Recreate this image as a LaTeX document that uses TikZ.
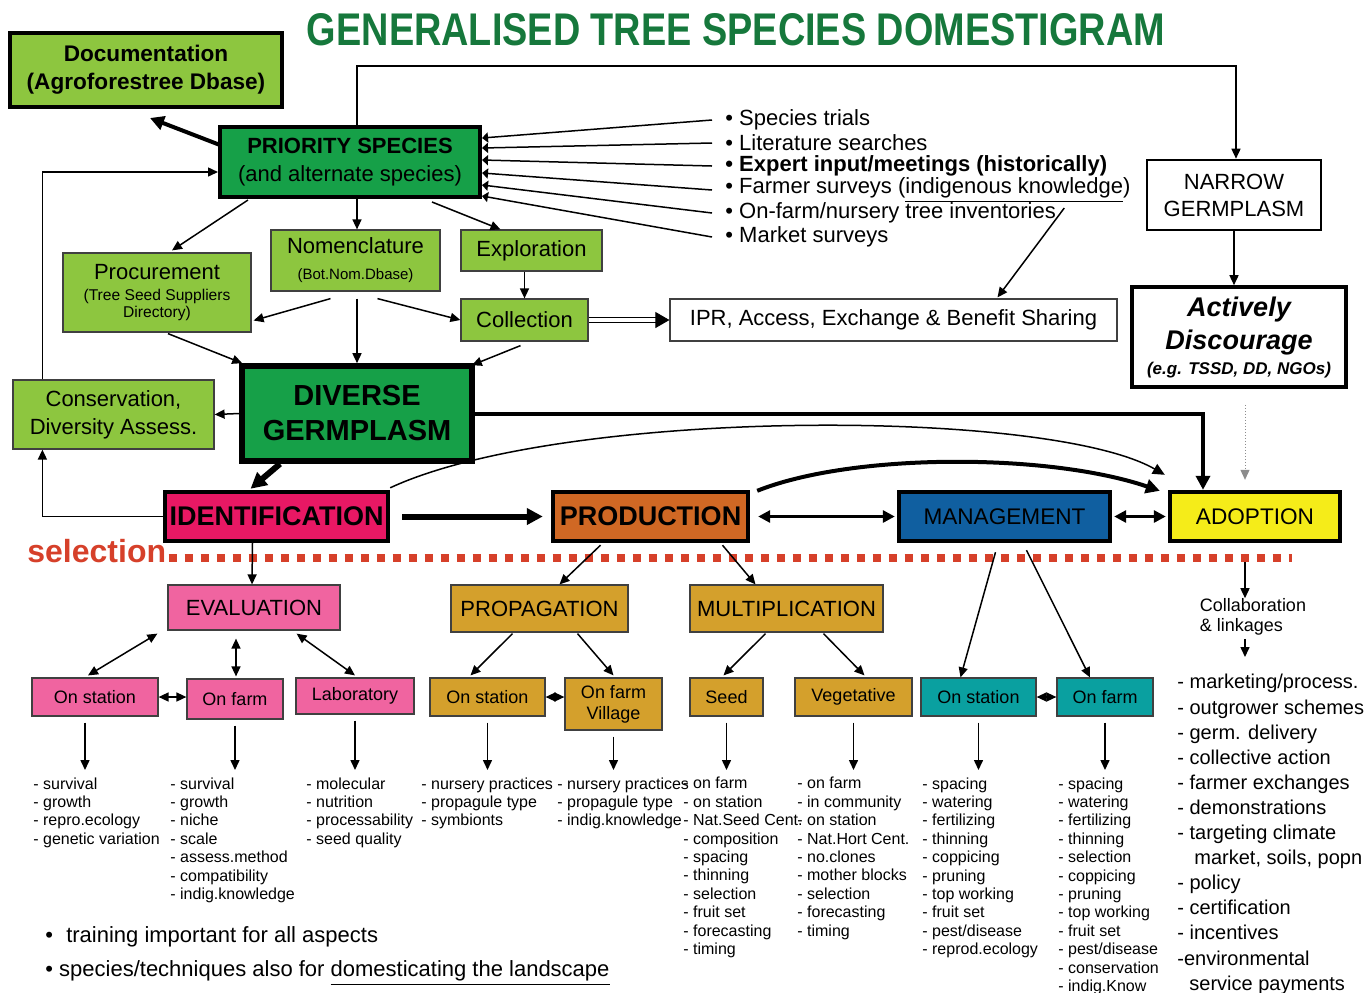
\documentclass[tikz,border=0pt]{standalone}
\usepackage{fontspec}
\setmainfont{Liberation Sans}
\usetikzlibrary{arrows.meta}
\definecolor{titlegreen}{RGB}{22,120,60}
\definecolor{lightgreen}{RGB}{141,198,63}
\definecolor{deepgreen}{RGB}{22,160,72}
\definecolor{identpink}{RGB}{232,24,100}
\definecolor{prodorange}{RGB}{208,104,36}
\definecolor{mgmtblue}{RGB}{16,95,160}
\definecolor{adoptyellow}{RGB}{245,236,25}
\definecolor{evalpink}{RGB}{240,100,160}
\definecolor{boxgold}{RGB}{212,160,44}
\definecolor{boxteal}{RGB}{10,160,160}
\definecolor{selred}{RGB}{214,64,42}
\newcommand\fsz[2]{\fontsize{#1}{#2}\selectfont}
\begin{document}
\begin{tikzpicture}[x=0.5pt,y=-0.5pt,
  wh/.style 2 args={minimum width=#1*0.5pt,minimum height=#2*0.5pt},
  box/.style={draw=black!75,line width=0.6pt,inner sep=0pt,align=center,font=\fsz{11}{13}},
  gbox/.style={box,fill=lightgreen},
  bigbox/.style={draw=black,line width=2.2pt,inner sep=0pt,align=center,font=\bfseries\fsz{13.5}{16}},
  small/.style={box,font=\fsz{9}{10.5}},
  bullet/.style={anchor=west,inner sep=0pt,font=\fsz{11}{13}},
  list/.style={anchor=north west,inner sep=0pt,align=left,font=\fsz{8}{9.2}},
  arr/.style={line width=0.75pt,-{Triangle[length=5pt,width=4.5pt]}},
  darr/.style={line width=0.75pt,{Triangle[length=5pt,width=4.5pt]}-{Triangle[length=5pt,width=4.5pt]}},
  fatarr/.style={line width=3pt,-{Triangle[length=8pt,width=8pt]}},
]
\useasboundingbox (0,0) rectangle (1372,992);
\clip (0,0) rectangle (1372,992);

\node[text=titlegreen,inner sep=0pt] (title) at (736,30) {\resizebox{429pt}{16pt}{\bfseries GENERALISED TREE SPECIES DOMESTIGRAM}};

\node[gbox,wh={272}{74},draw=black,line width=2pt,font=\bfseries\fsz{11.3}{14}] (doc) at (146,70) {Documentation\\(Agroforestree Dbase)};
\node[box,wh={260}{70},fill=deepgreen,draw=black,line width=2pt,font=\fsz{11}{14}] (prio) at (350,162) {\textbf{PRIORITY SPECIES}\\(and alternate species)};
\node[box,wh={174}{70},draw=black,line width=1.3pt,font=\fsz{11}{13.5}] (narrow) at (1234,195) {NARROW\\GERMPLASM};
\node[box,wh={214}{100},draw=black,line width=1.8pt,font=\bfseries\itshape\fsz{13.5}{16.5}] (discourage) at (1239,337) {Actively\\Discourage\\[-4pt]{\fsz{8.5}{10}(e.g. TSSD, DD, NGOs)}};

\node[bullet] (b1) at (725,120) {• Species trials};
\node[bullet] (b2) at (725,143) {• Literature searches};
\node[bullet] (b3) at (725,166) {\textbf{• Expert input/meetings (historically)}};
\node[bullet] (b4) at (725,190) {• Farmer surveys (\underline{indigenous knowledge})};
\node[bullet] (b5) at (725,213) {• On-farm/nursery tree inventories};
\node[bullet] (b6) at (725,237) {• Market surveys};

\node[gbox,wh={188}{79},font=\fsz{7.8}{8.5}] (proc) at (157,292.5) {{\fsz{11}{13}Procurement}\\[2pt](Tree Seed Suppliers\\Directory)};
\node[gbox,wh={169}{61}] (nomen) at (355.5,260.5) {Nomenclature\\{\fsz{7.5}{9}(Bot.Nom.Dbase)}};
\node[gbox,wh={141}{41}] (explo) at (531.5,250.5) {Exploration};
\node[gbox,wh={127}{42}] (coll) at (524.5,320) {Collection};
\node[box,wh={447}{42}] (ipr) at (893.5,320) {IPR, Access, Exchange \& Benefit Sharing};
\node[gbox,wh={201}{69},font=\fsz{11}{14}] (cons) at (113.5,414.5) {Conservation,\\Diversity Assess.};
\node[box,wh={230}{95},fill=deepgreen,draw=black,line width=2.8pt,font=\bfseries\fsz{14.5}{17.5}] (diverse) at (357,413.5) {DIVERSE\\GERMPLASM};

\node[bigbox,wh={223}{49},fill=identpink] (ident) at (276.5,516.5) {IDENTIFICATION};
\node[bigbox,wh={195}{49},fill=prodorange] (prod) at (650.5,516.5) {PRODUCTION};
\node[bigbox,wh={211}{49},fill=mgmtblue,font=\fsz{11.3}{13}] (manage) at (1004.5,516.5) {MANAGEMENT};
\node[bigbox,wh={170}{49},fill=adoptyellow,font=\fsz{11.3}{13}] (adopt) at (1255,516.5) {ADOPTION};

\node[anchor=west,inner sep=0pt,text=selred,font=\bfseries\fsz{16}{18}] (sel) at (27,551) {selection};
\coordinate (selend) at (1292,558);

\node[box,wh={172}{45},fill=evalpink] (eval) at (254,607.5) {EVALUATION};
\node[box,wh={177}{47},fill=boxgold] (propag) at (539.5,608.5) {PROPAGATION};
\node[box,wh={193}{47},fill=boxgold] (multi) at (786.5,608.5) {MULTIPLICATION};
\node[align=left,inner sep=0pt,font=\fsz{9}{10}] (collab) at (1253,617) {Collaboration\\\& linkages};
\coordinate (adtop) at (1245,657);

\node[small,wh={126}{38},fill=evalpink] (es) at (95,697) {On station};
\node[small,wh={96}{40},fill=evalpink] (ef) at (235,699) {On farm};
\node[small,wh={118}{36},fill=evalpink] (lab) at (355,696) {Laboratory};
\node[small,wh={115}{38},fill=boxgold] (ps) at (487.5,697) {On station};
\node[small,wh={97}{52},fill=boxgold] (pv) at (613.5,704) {On farm\\Village};
\node[small,wh={73}{38},fill=boxgold] (seed) at (726.5,697) {Seed};
\node[small,wh={117}{38},fill=boxgold] (veg) at (853.5,697) {Vegetative};
\node[small,wh={115}{38},fill=boxteal] (ms) at (978.5,697) {On station};
\node[small,wh={96}{38},fill=boxteal] (mf) at (1105,697) {On farm};

\node[list] (l1) at (33,777) {- survival\\- growth\\- repro.ecology\\- genetic variation};
\node[list] (l2) at (170,777) {- survival\\- growth\\- niche\\- scale\\- assess.method\\- compatibility\\- indig.knowledge};
\node[list] (l3) at (306,777) {- molecular\\- nutrition\\- processability\\- seed quality};
\node[list] (l4) at (421,777) {- nursery practices\\- propagule type\\- symbionts};
\node[list] (l5) at (557,777) {- nursery practices\\- propagule type\\- indig.knowledge};
\node[list] (l6) at (683,777) {- on farm\\- on station\\- Nat.Seed Cent.\\- composition\\- spacing\\- thinning\\- selection\\- fruit set\\- forecasting\\- timing};
\node[list] (l7) at (797,777) {- on farm\\- in community\\- on station\\- Nat.Hort Cent.\\- no.clones\\- mother blocks\\- selection\\- forecasting\\- timing};
\node[list] (l8) at (922,777) {- spacing\\- watering\\- fertilizing\\- thinning\\- coppicing\\- pruning\\- top working\\- fruit set\\- pest/disease\\- reprod.ecology};
\node[list] (l9) at (1058,777) {- spacing\\- watering\\- fertilizing\\- thinning\\- selection\\- coppicing\\- pruning\\- top working\\- fruit set\\- pest/disease\\- conservation\\- indig.Know};
\node[list,font=\fsz{10}{12.55}] (adlist) at (1177,674) {- marketing/process.\\- outgrower schemes\\- germ. delivery\\- collective action\\- farmer exchanges\\- demonstrations\\- targeting climate\\\hspace{0.85em}market, soils, popn\\- policy\\- certification\\- incentives\\-environmental\\\hspace{0.6em}service payments};

\node[anchor=west,inner sep=0pt,font=\fsz{11}{13}] (note1) at (45,937) {•\hspace{0.6em}training important for all aspects};
\node[anchor=west,inner sep=0pt,font=\fsz{11}{13}] (note2) at (45,973) {• species/techniques also for \underline{domesticating the landscape}};

\draw[line width=2pt,-{Triangle[length=7pt,width=7pt]}] ([shift={(2,-17)}]prio.west) -- ([shift={(4,9)}]doc.south);
\draw[arr] ([shift={(7,0)}]prio.north) -- ++(0,-59) -| ([shift={(2,0)}]narrow.north);
\foreach \i/\s in {1/-24,2/-14,3/-2,4/11,5/23,6/34}
  \draw[line width=0.75pt,{Triangle[length=3pt,width=5pt]}-] ([shift={(0,\s)}]prio.east) -- ([shift={(-13,0)}]b\i.west);
\draw[arr] ([shift={(8,-5)}]b5.east) -- ([shift={(104,-1)}]ipr.north);
\draw[arr] (narrow.south) -- (narrow.south |- discourage.north);
\draw[black!45,line width=0.5pt,densely dotted,-{Triangle[length=5pt,width=4.5pt]}] ([shift={(6,16)}]discourage.south) -- ([shift={(-10,-10)}]adopt.north);

\draw[arr] ([shift={(30,1)}]prio.south west) -- ([shift={(15,-2)}]proc.north);
\draw[arr] ([shift={(7,0)}]prio.south) -- ([shift={(1.5,0)}]nomen.north);
\draw[arr] ([shift={(-50,3)}]prio.south east) -- ([shift={(-31,0)}]explo.north);
\draw[arr] (coll.north |- explo.south) -- (coll.north);
\draw[arr] ([shift={(-25,7)}]nomen.south) -- ([shift={(2,28)}]proc.east);
\draw[arr] ([shift={(1.5,7)}]nomen.south) -- (diverse.north);
\draw[arr] ([shift={(22,7)}]nomen.south) -- (coll.west);
\draw[arr] ([shift={(11,1)}]proc.south) -- ([shift={(3,0)}]diverse.north west);
\draw[arr] ([shift={(-4,4)}]coll.south) -- ([shift={(-3,2)}]diverse.north east);
\draw[line width=0.6pt,double distance=2.2pt] (coll.east) -- ([xshift=-5pt]ipr.west);
\draw[-{Triangle[length=7pt,width=8pt]}] ([xshift=-6pt]ipr.west) -- (ipr.west);
\draw[arr] (diverse.west) -- (cons.east);
\draw[arr] ([shift={(30,0)}]cons.north west) |- ([shift={(0,10)}]prio.west);
\draw[arr] (ident.west) -| ([shift={(30,0)}]cons.south west);

\draw[fatarr] ([shift={(-77,0)}]diverse.south) -- ([shift={(-26,-1)}]ident.north);
\draw[line width=2pt,-{Triangle[length=7pt,width=7pt]}] (diverse.east) -| ([shift={(-52,0)}]adopt.north);
\draw[line width=0.75pt,-{Triangle[length=6pt,width=5.5pt]}] ([shift={(0,-2)}]ident.north east) .. controls +(172,-80) and +(-117,-67) .. ([shift={(-3,-15)}]adopt.north west);
\draw[line width=2pt,-{Triangle[length=7pt,width=7pt]}] ([shift={(7,1)}]prod.north east) .. controls +(95,-38) and +(-112,-38) .. ([shift={(-8,1)}]adopt.north west);
\draw[fatarr] ([xshift=6pt]ident.east) -- ([xshift=-4pt]prod.west);
\draw[line width=1.5pt,{Triangle[length=6pt,width=6pt]}-{Triangle[length=6pt,width=6pt]}] ([xshift=4pt]prod.east) -- ([xshift=-1pt]manage.west);
\draw[line width=1.8pt,{Triangle[length=6pt,width=6pt]}-{Triangle[length=6pt,width=6pt]}] ([xshift=1pt]manage.east) -- ([xshift=-1pt]adopt.west);

\draw[selred,line width=4pt,dash pattern=on 4pt off 4pt] ([shift={(2,7)}]sel.east) -- (selend);

\draw[arr] ([shift={(-24,0)}]ident.south) -- ([shift={(-2,0)}]eval.north);
\draw[arr] ([shift={(-50,2)}]prod.south) -- ([shift={(20,0)}]propag.north);
\draw[arr] ([shift={(72,2)}]prod.south) -- ([shift={(-31,0)}]multi.north);
\draw[arr] ([shift={(-9,9)}]manage.south) -- ([shift={(-18,0)}]ms.north);
\draw[arr] ([shift={(22,7)}]manage.south) -- ([shift={(-15,0)}]mf.north);
\draw[arr] ([shift={(-10,19)}]adopt.south) -- ([shift={(-8,0)}]collab.north);
\draw[arr] ([shift={(-8,3)}]collab.south) -- (adtop);

\draw[darr] ([shift={(-10,3)}]eval.south west) -- ([shift={(-7,-2)}]es.north);
\draw[darr] ([shift={(-18,8)}]eval.south) -- ([shift={(1,-2)}]ef.north);
\draw[darr] ([shift={(-44,3)}]eval.south east) -- ([shift={(0,-2)}]lab.north);
\draw[darr] (es.east) -- (es.east -| ef.west);
\draw[arr] ([shift={(-27,1)}]propag.south) -- ([shift={(-17,-2)}]ps.north);
\draw[arr] ([shift={(38,1)}]propag.south) -- ([shift={(0,-2)}]pv.north);
\draw[darr] (ps.east) -- (ps.east -| pv.west);
\draw[arr] ([shift={(-21,1)}]multi.south) -- ([shift={(-3,-2)}]seed.north);
\draw[arr] ([shift={(37,1)}]multi.south) -- ([shift={(11,-2)}]veg.north);
\draw[darr] (ms.east) -- (ms.east -| mf.west);

\coordinate (esb) at ([xshift=-5pt]es.south);
\draw[arr,shorten <=3pt,shorten >=3.5pt] (esb) -- (esb |- l1.north);
\foreach \b/\l in {ef/l2,lab/l3,ps/l4,pv/l5,seed/l6,veg/l7,ms/l8,mf/l9}
  \draw[arr,shorten <=3pt,shorten >=3.5pt] (\b.south) -- (\b.south |- \l.north);
\end{tikzpicture}
\end{document}
